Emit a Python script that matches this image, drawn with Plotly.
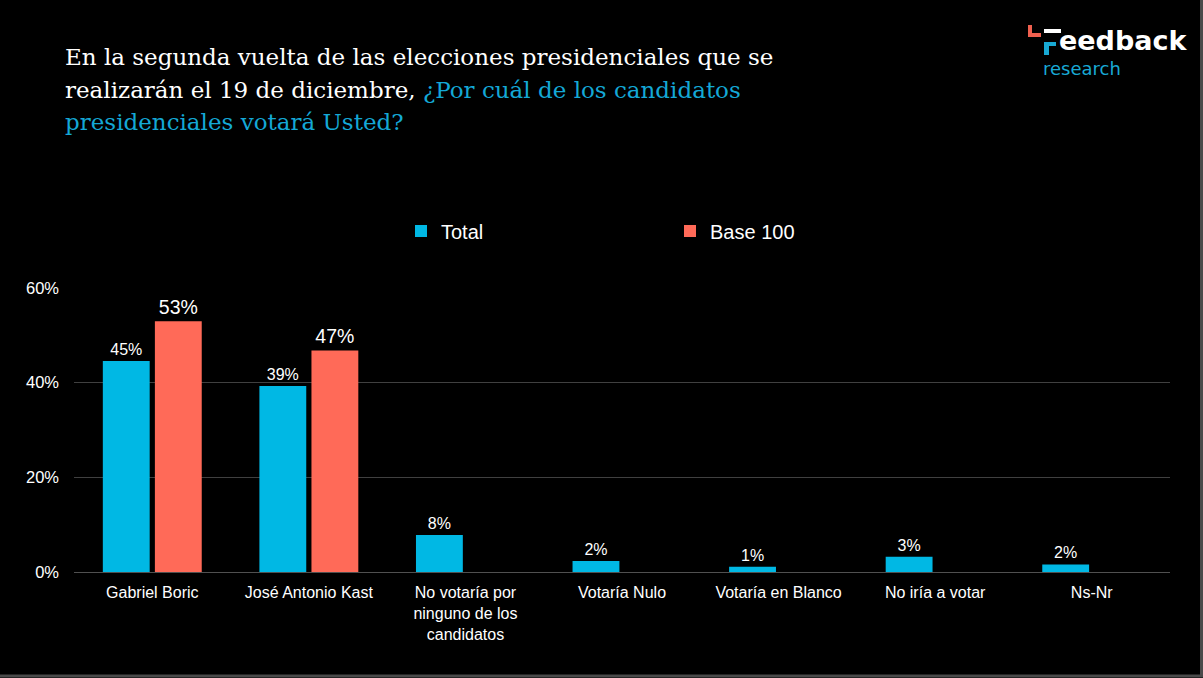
import plotly.graph_objects as go

categories = ["Gabriel Boric", "José Antonio Kast", "No votaría por<br>ninguno de los<br>candidatos",
              "Votaría Nulo", "Votaría en Blanco", "No iría a votar", "Ns-Nr"]
total = [44.6, 39.3, 7.8, 2.3, 1.1, 3.2, 1.6]
base100 = [53.0, 46.8, None, None, None, None, None]
yticks = [0, 20, 40, 60]
yticklabels = ["0%", "20%", "40%", "60%"]
title_lines = [
    "En la segunda vuelta de las elecciones presidenciales que se",
    "realizarán el 19 de diciembre, <span style='color:#14A8D6'>¿Por cuál de los candidatos</span>",
    "<span style='color:#14A8D6'>presidenciales votará Usted?</span>",
]

BLUE = "#00B8E4"
RED = "#FF6A58"

W, H = 1203, 678
ML, MR, MT, MB = 74, 33, 288, 106
PW, PH = W - ML - MR, H - MT - MB

def px(x):
    return (x - ML) / PW

def py(y):
    return (H - MB - y) / PH

fig = go.Figure()
fig.add_trace(go.Bar(
    x=categories, y=total, name="Total", marker=dict(color=BLUE, line=dict(width=0)),
    texttemplate="%{y:.0f}%", textposition="outside",
    textfont=dict(family="Liberation Sans, Arial", size=16, color="white"),
    cliponaxis=False,
))
fig.add_trace(go.Bar(
    x=categories, y=base100, name="Base 100", marker=dict(color=RED, line=dict(width=0)),
    texttemplate="%{y:.0f}%", textposition="outside",
    textfont=dict(family="Liberation Sans, Arial", size=19.5, color="white"),
    cliponaxis=False,
))

shapes = []
def rect(x0, y0, x1, y1, color):
    shapes.append(dict(type="rect", xref="paper", yref="paper",
                       x0=px(x0), x1=px(x1), y0=py(y1), y1=py(y0),
                       fillcolor=color, line=dict(width=0), layer="above"))

# logo glyph parts
rect(1044, 29, 1061, 33, "white")
rect(1044, 42, 1056, 46, "#18A9D4")
rect(1044, 42, 1049, 55, "#18A9D4")
rect(1028, 25, 1032, 37, "#F0604F")
rect(1028, 33, 1041, 37, "#F0604F")

# slide border
shapes.append(dict(type="line", xref="paper", yref="paper", x0=px(1201.5), x1=px(1201.5),
                   y0=py(0), y1=py(676), line=dict(color="#4a4a4a", width=3), layer="above"))
shapes.append(dict(type="line", xref="paper", yref="paper", x0=px(0), x1=px(1203),
                   y0=py(676), y1=py(676), line=dict(color="#4a4a4a", width=3), layer="above"))

annotations = [
    dict(text="eedback", xref="paper", yref="paper", x=px(1058), y=py(57.5), xanchor="left", yanchor="bottom",
         showarrow=False, borderpad=0,
         font=dict(family="DejaVu Sans", size=27, color="white", weight="bold")),
    dict(text="research", xref="paper", yref="paper", x=px(1042), y=py(57.5), xanchor="left", yanchor="top",
         showarrow=False, borderpad=0,
         font=dict(family="DejaVu Sans", size=18, color="#18A9D4")),
]
for i, line in enumerate(title_lines):
    annotations.append(dict(text=line, xref="paper", yref="paper", x=px(63), y=py(57 + 32.5 * i),
                            xanchor="left", yanchor="middle", showarrow=False,
                            font=dict(family="DejaVu Serif", size=23, color="white")))

fig.update_layout(
    width=W, height=H,
    margin=dict(l=ML, r=MR, t=MT, b=MB),
    paper_bgcolor="black", plot_bgcolor="black",
    barmode="group", bargap=0.335, bargroupgap=0.1,
    legend=dict(orientation="h", x=px(401), xanchor="left", y=py(231), yanchor="middle",
                font=dict(family="Liberation Sans, Arial", size=20, color="white"),
                entrywidth=224, entrywidthmode="pixels", bgcolor="rgba(0,0,0,0)"),
    xaxis=dict(showgrid=False, showline=False, zeroline=False, ticks="",
               ticklabelstandoff=9,
               tickfont=dict(family="Liberation Sans, Arial", size=16, color="white"),
               fixedrange=True),
    yaxis=dict(range=[0, 60], tickvals=yticks, ticktext=yticklabels,
               showgrid=True, gridcolor="#404040", gridwidth=1,
               zeroline=True, zerolinecolor="#505050", zerolinewidth=1,
               showline=False, ticks="", ticklabelstandoff=14,
               tickfont=dict(family="Liberation Sans, Arial", size=16.5, color="white")),
    shapes=shapes,
    annotations=annotations,
    font=dict(color="white"),
)

fig.write_html("out.html", config={"displayModeBar": False},
               post_script="document.body.style.margin='0';document.body.style.background='black';")
